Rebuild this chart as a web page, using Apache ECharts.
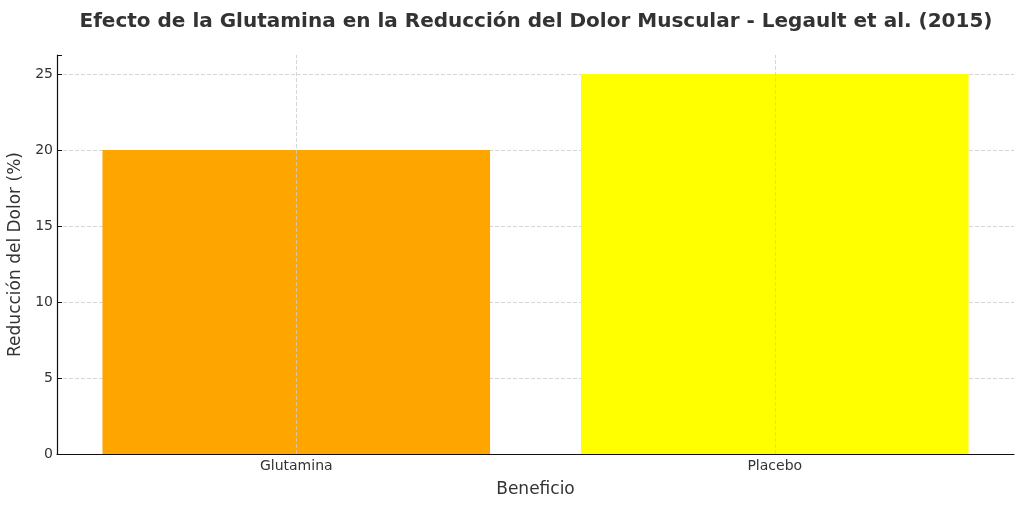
<!DOCTYPE html>
<html>
<head>
<meta charset="utf-8">
<script src="https://cdn.jsdelivr.net/npm/echarts@6/dist/echarts.min.js"></script>
<style>
  html, body { margin: 0; padding: 0; background: #fff; }
  #chart { width: 1024px; height: 507px; }
</style>
</head>
<body>
<div id="chart"></div>
<script>
const categories = ["Glutamina", "Placebo"];
const reduction = [20, 25];
const barColors = ["#ffa500", "#ffff00"];
const yTicks = [0, 5, 10, 15, 20, 25];

(() => {
  const font = "DejaVu Sans";
  const chart = echarts.init(document.getElementById("chart"), null, { renderer: "canvas" });

  const option = {
    backgroundColor: "#ffffff",
    animation: false,
    title: {
      text: "Efecto de la Glutamina en la Reducción del Dolor Muscular - Legault et al. (2015)",
      left: 531,
      textAlign: "center",
      top: 7,
      textStyle: { fontFamily: font, fontSize: 20, fontWeight: "bold", color: "#333333" },
    },
    grid: { left: 57, right: 10, top: 55, bottom: 53, outerBoundsMode: "none", containLabel: false },
    xAxis: {
      type: "category",
      data: categories,
      name: "Beneficio",
      nameLocation: "middle",
      nameGap: 27,
      nameTextStyle: { fontFamily: font, fontSize: 17, color: "#333333" },
      axisLine: { show: true, lineStyle: { color: "#111111", width: 1.2 } },
      axisTick: { show: true, alignWithLabel: true, inside: true, length: 5, lineStyle: { color: "#111111" } },
      axisLabel: { fontFamily: font, fontSize: 14, color: "#333333", margin: 5 },
      splitLine: { show: false },
    },
    yAxis: {
      type: "value",
      min: 0,
      max: 26.25,
      interval: 5,
      name: "Reducción del Dolor (%)",
      nameLocation: "middle",
      nameGap: 31,
      nameTextStyle: { fontFamily: font, fontSize: 17, color: "#333333" },
      axisLine: { show: true, lineStyle: { color: "#111111", width: 1.2 } },
      axisTick: { show: true, inside: true, length: 5, lineStyle: { color: "#111111" } },
      axisLabel: {
        fontFamily: font,
        fontSize: 14,
        color: "#333333",
        margin: 4,
        formatter: (v) => (yTicks.includes(v) ? String(v) : ""),
      },
      splitLine: {
        show: true,
        showMaxLine: false,
        lineStyle: { color: "#cccccc", type: [4, 2], width: 0.8 },
      },
    },
    series: [
      {
        type: "bar",
        barWidth: "81%",
        data: reduction.map((v, i) => ({ value: v, itemStyle: { color: barColors[i] } })),
        markLine: {
          silent: true,
          symbol: "none",
          label: { show: false },
          lineStyle: { color: "#cccccc", type: [4, 2], width: 0.8 },
          data: categories.map((c) => ({ xAxis: c })),
        },
      },
    ],
  };

  chart.setOption(option);
})();
</script>
</body>
</html>
